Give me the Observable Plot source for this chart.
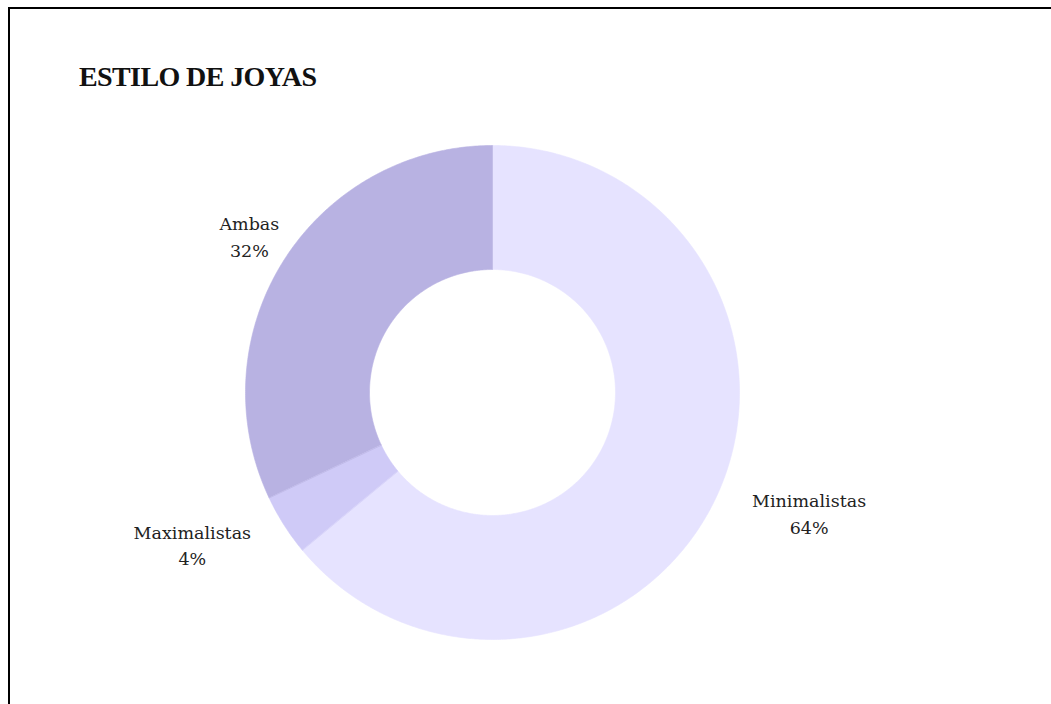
<!DOCTYPE html>
<html>
<head>
<meta charset="utf-8">
<script src="https://cdn.jsdelivr.net/npm/d3@7"></script>
<script src="https://cdn.jsdelivr.net/npm/@observablehq/plot@0.6"></script>
<style>
  html, body { margin: 0; padding: 0; background: #fff; overflow: hidden; width: 1051px; height: 704px; }
  #frame { position: absolute; left: 8px; top: 7px; width: 1200px; height: 900px;
           border-left: 2px solid #000; border-top: 2px solid #000; }
  #title { position: absolute; left: 79px; top: 63px; margin: 0; line-height: 1;
           font-family: "Liberation Serif", serif; font-weight: bold; font-size: 28px;
           letter-spacing: -0.6px; color: #111; white-space: nowrap; }
  #chart { position: absolute; left: 0; top: 110px; }
</style>
</head>
<body>
<div id="frame"></div>
<div id="title">ESTILO DE JOYAS</div>
<div id="chart"></div>
<script>
// ---- data ----
const categories = ["Minimalistas", "Maximalistas", "Ambas"];
const shares = [64, 4, 32];
const colors = ["#e6e3ff", "#cfcaf7", "#b8b2e2"];

// ---- layout (pixels) ----
const W = 1051, H = 594, CX = 492, CY = 282, R = 247;
const innerRatio = 123 / 247;
const labelRadius = 288 / 247;
const labelHalfWidth = {Minimalistas: 56, Maximalistas: -57, Ambas: 0};

const total = d3.sum(shares);
const pie = d3.pie().sort(null).value(d => d.value)(categories.map((name, i) => ({name, value: shares[i]})));

// arc outlines in unit coordinates (angle clockwise from top, y up)
const points = [];
for (const s of pie) {
  const a0 = s.startAngle, a1 = s.endAngle;
  const n = Math.max(2, Math.ceil((a1 - a0) / (Math.PI / 360)));
  for (let k = 0; k <= n; k++) {
    const a = a0 + (a1 - a0) * k / n;
    points.push({name: s.data.name, x: Math.sin(a), y: Math.cos(a)});
  }
  for (let k = n; k >= 0; k--) {
    const a = a0 + (a1 - a0) * k / n;
    points.push({name: s.data.name, x: innerRatio * Math.sin(a), y: innerRatio * Math.cos(a)});
  }
}

const labels = pie.map(s => {
  const mid = (s.startAngle + s.endAngle) / 2;
  return {
    name: s.data.name,
    x: labelRadius * Math.sin(mid) + labelHalfWidth[s.data.name] / R,
    y: labelRadius * Math.cos(mid),
    text: `${s.data.name}\n${Math.round(s.data.value / total * 100)}%`
  };
});

const plot = Plot.plot({
  width: W,
  height: H,
  margin: 0,
  x: {domain: [-CX / R, (W - CX) / R], axis: null},
  y: {domain: [-(H - CY) / R, CY / R], axis: null},
  color: {domain: categories, range: colors},
  style: {background: "transparent"},
  marks: [
    Plot.line(points, {x: "x", y: "y", z: "name", fill: "name", stroke: "name", strokeWidth: 0.6, curve: "linear-closed"}),
    Plot.text(labels, {x: "x", y: "y", text: "text", textAnchor: "middle", lineHeight: 1.5, dy: -3,
      fontFamily: "DejaVu Serif", fontSize: 17.5, fill: "#222"})
  ]
});
document.getElementById("chart").appendChild(plot);
</script>
</body>
</html>
